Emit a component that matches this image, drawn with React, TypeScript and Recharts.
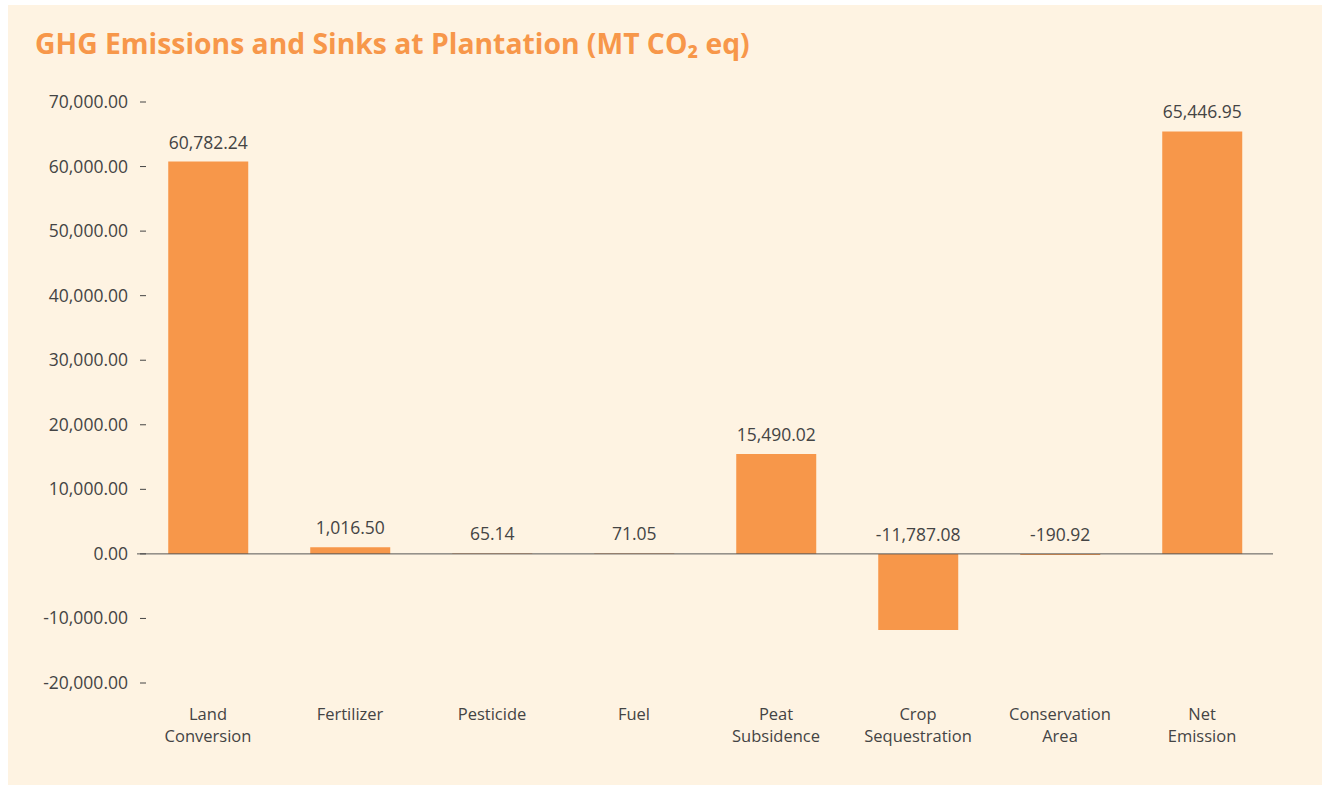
import { BarChart, Bar, XAxis, YAxis, ReferenceLine, LabelList } from 'recharts';

const categories = ['Land Conversion', 'Fertilizer', 'Pesticide', 'Fuel', 'Peat Subsidence', 'Crop Sequestration', 'Conservation Area', 'Net Emission'];
const emissions = [60782.24, 1016.5, 65.14, 71.05, 15490.02, -11787.08, -190.92, 65446.95];
const yTicks = [-20000, -10000, 0, 10000, 20000, 30000, 40000, 50000, 60000, 70000];

const data = categories.map((name, i) => ({ name, value: emissions[i] }));

const fmt = (v: number) =>
    v.toLocaleString('en-US', { minimumFractionDigits: 2, maximumFractionDigits: 2 });

const FONT = '"Open Sans", "Noto Sans", sans-serif';
const TEXT = '#444444';
const ORANGE = '#F7974A';
const FS = 17.5;

function YTick(props: any) {
    const { x, y, payload } = props;
    return (
        <g>
            <text x={x + 9} y={y} dy={6} textAnchor="end" fontSize={FS} fill={TEXT} fontFamily={FONT}>
                {fmt(payload.value)}
            </text>
            <line x1={x + 21} x2={x + 27} y1={y} y2={y} stroke={TEXT} strokeWidth={1} />
        </g>
    );
}

// category names wrap onto two lines, one word per line
function XTick(props: any) {
    const { x, y, payload } = props;
    const words = String(payload.value).split(' ');
    return (
        <g>
            {words.map((w, i) => (
                <text key={i} x={x} y={y + 30 + i * 22} dy={-1} textAnchor="middle" fontSize={16.5} fill={TEXT} fontFamily={FONT}>
                    {w}
                </text>
            ))}
        </g>
    );
}

function ValueLabel(props: any) {
    const { x, y, width, height, value } = props;
    const top = Math.min(y, y + height);
    return (
        <text x={x + width / 2} y={top - 13} textAnchor="middle" fontSize={FS} fill={TEXT} fontFamily={FONT}>
            {fmt(value)}
        </text>
    );
}

export default function App() {
    return (
        <div style={{ position: 'fixed', left: 8, top: 5, right: 0, bottom: 0, background: '#FEF3E2', fontFamily: FONT, overflow: 'hidden' }}>
            <div style={{ position: 'absolute', left: 27, top: 19, fontSize: 28.3, fontWeight: 700, color: ORANGE, whiteSpace: 'nowrap' }}>
                GHG Emissions and Sinks at Plantation (MT CO₂ eq)
            </div>
            <BarChart width={1314} height={758} data={data}
                margin={{ top: 97, right: 49, left: 0, bottom: 20 }}
                barCategoryGap="22%">
                <XAxis dataKey="name" axisLine={false} tickLine={false} interval={0} height={60} tick={<XTick />} />
                <YAxis domain={[-20000, 70000]} ticks={yTicks} width={129} axisLine={false} tickLine={false}
                    tick={<YTick />} tickMargin={12} />
                <ReferenceLine y={0} stroke="#555555" strokeWidth={1} />
                <Bar dataKey="value" fill={ORANGE} isAnimationActive={false}>
                    <LabelList dataKey="value" content={<ValueLabel />} />
                </Bar>
            </BarChart>
        </div>
    );
}
